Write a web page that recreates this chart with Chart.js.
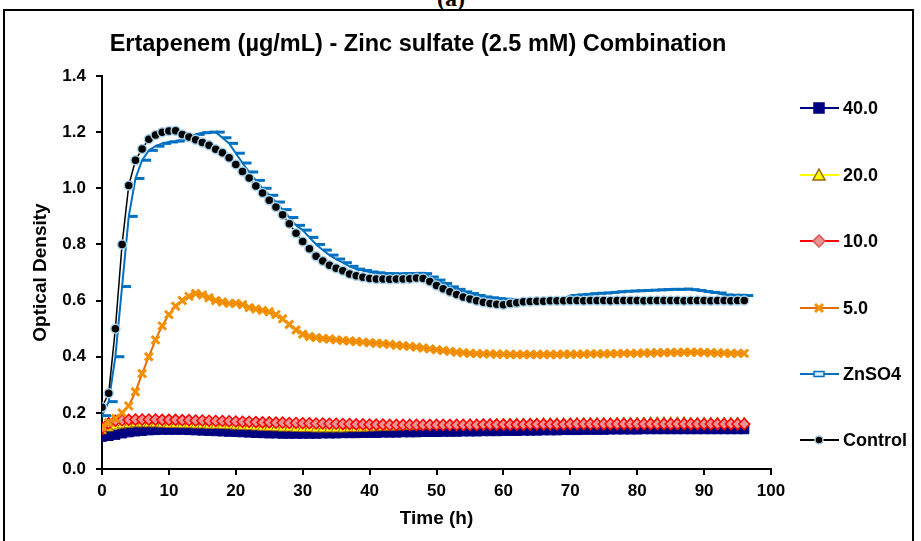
<!DOCTYPE html>
<html>
<head>
<meta charset="utf-8">
<script src="https://cdn.jsdelivr.net/npm/chart.js"></script>
<style>
  html, body { margin: 0; padding: 0; background: #fff; overflow: hidden; }
  #wrap { position: relative; width: 921px; height: 541px; }
  #frame { position: absolute; left: 3px; top: 9px; width: 907px; height: 600px; border: 2px solid #000; }
  #tag { position: absolute; left: 0; width: 902px; top: -15px; text-align: center;
         font: bold 24px "Liberation Serif", "Times New Roman", serif; }
  canvas { position: absolute; left: 0; top: 0; }
</style>
</head>
<body>
<div id="wrap">
  <div id="frame"></div>
  <div id="tag">(a)</div>
  <canvas id="myChart" width="921" height="541"></canvas>
</div>
<script>
// time points (h)
var hours = [0,1,2,3,4,5,6,7,8,9,10,11,12,13,14,15,16,17,18,19,20,21,22,23,24,25,26,27,28,29,
  30,31,32,33,34,35,36,37,38,39,40,41,42,43,44,45,46,47,48,49,50,51,52,53,54,55,56,57,58,59,
  60,61,62,63,64,65,66,67,68,69,70,71,72,73,74,75,76,77,78,79,80,81,82,83,84,85,86,87,88,89,
  90,91,92,93,94,95,96];

var seriesNames = ['40.0', '20.0', '10.0', '5.0', 'ZnSO4', 'Control'];

var od40 = [0.115,0.118,0.122,0.127,0.131,0.134,0.136,0.138,0.139,0.140,
  0.140,0.140,0.140,0.139,0.138,0.137,0.136,0.135,0.134,0.133,
  0.132,0.131,0.130,0.129,0.128,0.127,0.127,0.126,0.126,0.126,
  0.126,0.126,0.126,0.127,0.127,0.127,0.128,0.128,0.128,0.129,
  0.129,0.129,0.130,0.130,0.130,0.131,0.131,0.131,0.132,0.132,
  0.132,0.133,0.133,0.133,0.134,0.134,0.134,0.135,0.135,0.135,
  0.136,0.136,0.136,0.137,0.137,0.137,0.138,0.138,0.138,0.139,
  0.139,0.139,0.140,0.140,0.140,0.140,0.141,0.141,0.141,0.141,
  0.141,0.142,0.142,0.142,0.142,0.142,0.142,0.142,0.142,0.142,
  0.142,0.142,0.142,0.142,0.142,0.142,0.142];

var od20 = [0.135,0.145,0.152,0.156,0.158,0.160,0.160,0.160,0.160,0.159,
  0.158,0.158,0.157,0.157,0.156,0.156,0.155,0.155,0.154,0.153,
  0.152,0.151,0.150,0.149,0.148,0.147,0.146,0.145,0.145,0.144,
  0.143,0.143,0.142,0.142,0.142,0.142,0.142,0.143,0.143,0.144,
  0.145,0.146,0.147,0.148,0.149,0.150,0.151,0.152,0.153,0.154,
  0.155,0.156,0.157,0.158,0.159,0.160,0.160,0.161,0.161,0.162,
  0.162,0.162,0.163,0.163,0.163,0.163,0.164,0.164,0.164,0.164,
  0.164,0.165,0.165,0.165,0.165,0.165,0.165,0.166,0.166,0.166,
  0.166,0.166,0.167,0.167,0.167,0.167,0.167,0.167,0.166,0.166,
  0.166,0.166,0.166,0.166,0.166,0.166,0.166];

var od10 = [0.145,0.163,0.172,0.174,0.175,0.176,0.176,0.176,0.176,0.175,
  0.175,0.175,0.174,0.174,0.173,0.173,0.172,0.171,0.171,0.170,
  0.169,0.168,0.168,0.167,0.166,0.166,0.165,0.165,0.164,0.164,
  0.163,0.163,0.162,0.162,0.161,0.161,0.160,0.160,0.159,0.159,
  0.158,0.158,0.158,0.157,0.157,0.157,0.157,0.157,0.157,0.157,
  0.157,0.157,0.157,0.157,0.157,0.157,0.157,0.158,0.158,0.158,
  0.158,0.158,0.158,0.158,0.159,0.159,0.159,0.159,0.159,0.159,
  0.160,0.160,0.160,0.160,0.160,0.160,0.160,0.160,0.160,0.160,
  0.160,0.160,0.160,0.160,0.160,0.160,0.160,0.160,0.160,0.160,
  0.160,0.160,0.160,0.160,0.160,0.160,0.160];

var od5 = [0.150,0.165,0.180,0.200,0.225,0.275,0.340,0.400,0.460,0.510,
  0.550,0.580,0.600,0.615,0.625,0.620,0.610,0.600,0.595,0.590,
  0.590,0.585,0.575,0.570,0.565,0.560,0.550,0.535,0.515,0.495,
  0.480,0.472,0.468,0.465,0.463,0.460,0.458,0.456,0.454,0.452,
  0.450,0.448,0.446,0.444,0.441,0.439,0.437,0.434,0.431,0.428,
  0.425,0.422,0.419,0.416,0.414,0.412,0.411,0.410,0.410,0.409,
  0.409,0.408,0.408,0.408,0.408,0.408,0.408,0.408,0.408,0.409,
  0.409,0.409,0.409,0.410,0.410,0.410,0.411,0.411,0.412,0.412,
  0.412,0.413,0.413,0.414,0.414,0.415,0.415,0.416,0.416,0.416,
  0.415,0.414,0.413,0.413,0.412,0.412,0.412];

var odZn = [0.190,0.240,0.400,0.650,0.900,1.035,1.100,1.135,1.150,1.160,
  1.165,1.168,1.173,1.185,1.192,1.198,1.200,1.200,1.180,1.160,
  1.125,1.090,1.058,1.028,1.000,0.975,0.951,0.924,0.896,0.868,
  0.851,0.825,0.800,0.780,0.762,0.748,0.735,0.722,0.712,0.707,
  0.702,0.699,0.696,0.696,0.695,0.696,0.696,0.697,0.696,0.684,
  0.673,0.661,0.649,0.640,0.631,0.625,0.618,0.613,0.610,0.607,
  0.605,0.603,0.603,0.604,0.604,0.605,0.605,0.606,0.607,0.608,
  0.618,0.620,0.622,0.624,0.626,0.627,0.629,0.631,0.633,0.634,
  0.635,0.636,0.637,0.638,0.639,0.640,0.640,0.641,0.639,0.636,
  0.632,0.629,0.627,0.620,0.619,0.619,0.618];

var odControl = [0.220,0.270,0.500,0.800,1.010,1.100,1.140,1.175,1.190,1.200,
  1.204,1.205,1.192,1.183,1.173,1.163,1.153,1.139,1.127,1.109,
  1.085,1.060,1.037,1.008,0.983,0.957,0.933,0.906,0.874,0.840,
  0.810,0.785,0.758,0.741,0.726,0.715,0.706,0.695,0.688,0.683,
  0.679,0.677,0.677,0.676,0.677,0.677,0.678,0.680,0.679,0.668,
  0.654,0.642,0.631,0.622,0.613,0.606,0.599,0.594,0.590,0.587,
  0.585,0.590,0.592,0.596,0.597,0.598,0.598,0.599,0.599,0.599,
  0.600,0.600,0.599,0.600,0.600,0.600,0.599,0.600,0.600,0.600,
  0.600,0.599,0.600,0.600,0.600,0.600,0.600,0.599,0.600,0.600,
  0.600,0.599,0.600,0.600,0.599,0.600,0.600];

var FONT = '"Liberation Sans", Arial, sans-serif';
Chart.defaults.font.family = FONT;
Chart.defaults.color = '#000';

// legend marker looks (only used by the legend drawer below)
var legendMarks = [
  { shape: 'square', fill: '#000080', stroke: '#000080' },
  { shape: 'triangle', fill: '#FFFF00', stroke: '#9C6500' },
  { shape: 'diamond', fill: '#E89494', stroke: '#E05050' },
  { shape: 'x', fill: null, stroke: '#F09000' },
  { shape: 'bar', fill: '#D6EAF8', stroke: '#0070C0' },
  { shape: 'dot', fill: '#000000', stroke: '#A9D2E8' }
];

var overlay = {
  id: 'overlay',
  afterDraw: function (chart) {
    var c = chart.ctx;
    c.save();
    c.fillStyle = '#000';
    c.font = 'bold 23.5px ' + FONT;
    c.textAlign = 'center';
    c.textBaseline = 'middle';
    c.fillText('Ertapenem (\u00b5g/mL) - Zinc sulfate (2.5 mM) Combination', 418, 45);

    var ys = [108, 175, 241, 308, 374, 440];
    chart.data.datasets.forEach(function (ds, i) {
      var y = ys[i], m = legendMarks[i], cx = 819;
      c.strokeStyle = ds.borderColor;
      c.lineWidth = 2;
      c.beginPath(); c.moveTo(800, y); c.lineTo(839, y); c.stroke();
      c.beginPath();
      if (m.shape === 'square') { c.rect(cx - 5, y - 5, 10, 10); }
      else if (m.shape === 'triangle') { c.moveTo(cx, y - 6); c.lineTo(cx + 6, y + 5); c.lineTo(cx - 6, y + 5); c.closePath(); }
      else if (m.shape === 'diamond') { c.moveTo(cx, y - 6); c.lineTo(cx + 6, y); c.lineTo(cx, y + 6); c.lineTo(cx - 6, y); c.closePath(); }
      else if (m.shape === 'x') { c.moveTo(cx - 4, y - 4); c.lineTo(cx + 4, y + 4); c.moveTo(cx + 4, y - 4); c.lineTo(cx - 4, y + 4); }
      else if (m.shape === 'bar') { c.rect(cx - 5, y - 2.5, 10, 5); }
      else { c.arc(cx, y, 4, 0, Math.PI * 2); }
      if (m.fill) { c.fillStyle = m.fill; c.fill(); }
      c.strokeStyle = m.stroke;
      c.lineWidth = m.shape === 'x' ? 3 : 1.5;
      c.stroke();
      c.fillStyle = '#000';
      c.font = 'bold 18px ' + FONT;
      c.textAlign = 'left';
      c.fillText(seriesNames[i], 843, y + 1);
    });
    c.restore();
  }
};

var ctx = document.getElementById('myChart').getContext('2d');
var chart = new Chart(ctx, {
  type: 'line',
  data: {
    labels: hours,
    datasets: [
      {
        label: seriesNames[0], data: od40, order: 6,
        borderColor: '#000080', borderWidth: 2,
        pointStyle: 'rect', pointRadius: 6.5,
        pointBackgroundColor: '#000080', pointBorderColor: '#000080', pointBorderWidth: 1
      },
      {
        label: seriesNames[1], data: od20, order: 5,
        borderColor: '#FFFF00', borderWidth: 2,
        pointStyle: 'triangle', pointRadius: 5.5,
        pointBackgroundColor: '#FFFF00', pointBorderColor: '#9C6500', pointBorderWidth: 1
      },
      {
        label: seriesNames[2], data: od10, order: 4,
        borderColor: '#FF0000', borderWidth: 2,
        pointStyle: 'rectRot', pointRadius: 5.5,
        pointBackgroundColor: '#E89494', pointBorderColor: '#FF0000', pointBorderWidth: 1.5
      },
      {
        label: seriesNames[3], data: od5, order: 3,
        borderColor: '#E46C0A', borderWidth: 2,
        pointStyle: 'crossRot', pointRadius: 5.5,
        pointBorderColor: '#F39000', pointBorderWidth: 3
      },
      {
        label: seriesNames[4], data: odZn, order: 2,
        borderColor: '#0070C0', borderWidth: 2,
        pointStyle: 'dash', pointRadius: 9,
        pointBorderColor: '#0070C0', pointBorderWidth: 3
      },
      {
        label: seriesNames[5], data: odControl, order: 1,
        borderColor: '#000000', borderWidth: 1.5,
        pointStyle: 'circle', pointRadius: 4.5,
        pointBackgroundColor: '#000000', pointBorderColor: '#A9D2E8', pointBorderWidth: 1.5
      }
    ]
  },
  options: {
    responsive: false,
    animation: false,
    layout: { padding: { left: 0, right: 150, top: 76, bottom: 0 } },
    scales: {
      x: {
        type: 'linear', min: 0, max: 100,
        border: { display: true, color: '#000', width: 2 },
        grid: { drawOnChartArea: false, drawTicks: true, tickLength: 6, color: '#000', lineWidth: 2 },
        ticks: { stepSize: 10, padding: 6, maxRotation: 0, color: '#000', font: { size: 17, weight: 'bold' } },
        title: { display: true, text: 'Time (h)', color: '#000', font: { size: 19, weight: 'bold' }, padding: { top: 4, bottom: 11 } },
        afterFit: function (s) { s.height = 72; }
      },
      y: {
        min: 0, max: 1.4,
        border: { display: true, color: '#000', width: 2 },
        grid: { drawOnChartArea: false, drawTicks: true, tickLength: 6, color: '#000', lineWidth: 2 },
        ticks: { stepSize: 0.2, padding: 10, color: '#000', font: { size: 17, weight: 'bold' },
                 callback: function (v) { return v.toFixed(1); } },
        title: { display: true, text: 'Optical Density', color: '#000', font: { size: 19, weight: 'bold' }, padding: { top: 29, bottom: 0 } },
        afterFit: function (s) { s.width = 102; }
      }
    },
    plugins: {
      legend: { display: false },
      title: { display: false },
      tooltip: { enabled: false }
    }
  },
  plugins: [overlay]
});
</script>
</body>
</html>
